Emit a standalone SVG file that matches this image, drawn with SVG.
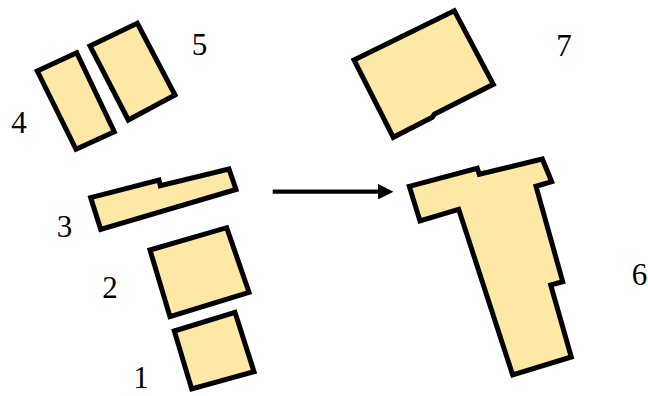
<svg xmlns="http://www.w3.org/2000/svg" width="648" height="396" viewBox="0 0 648 396">
  <style>
    .bld { fill: #FDE8A5; stroke: #000; stroke-width: 5; stroke-linejoin: miter; }
    .lbl { font-family: "Liberation Serif", "Times New Roman", serif; font-size: 31px; fill: #000; text-anchor: middle; }
  </style>
  <defs>
    <marker id="head" viewBox="0 0 10 10" refX="0" refY="5" markerWidth="3.6" markerHeight="3.6" markerUnits="strokeWidth" orient="auto">
      <path d="M0,0 L10,5 L0,10 Z" fill="#000"/>
    </marker>
  </defs>
  <rect width="648" height="396" fill="#fff"/>

  <g id="b4">
    <polygon class="bld" points="37.3,71 76.7,52.7 114.3,131.7 76,149.3"/>
    <text class="lbl" x="19" y="132.5">4</text>
  </g>
  <g id="b5">
    <polygon class="bld" points="90,46 137.3,23.3 175,95 128.3,120"/>
    <text class="lbl" x="199.5" y="55">5</text>
  </g>
  <g id="b3">
    <polygon class="bld" points="90.7,197.7 159,180 160.3,185.7 229,169 236,189.5 100.7,229.3"/>
    <text class="lbl" x="64.5" y="236.5">3</text>
  </g>
  <g id="b2">
    <polygon class="bld" points="150,250 226.7,227.7 249,292.3 170,316.7"/>
    <text class="lbl" x="110" y="298">2</text>
  </g>
  <g id="b1">
    <polygon class="bld" points="174.3,331 235,312.3 254,371.7 191.7,389"/>
    <text class="lbl" x="141" y="388">1</text>
  </g>
  <g id="b7">
    <polygon class="bld" points="354,60 454.3,10.7 493.3,84.3 434.3,114.3 432.3,117.3 393.3,137.3"/>
    <text class="lbl" x="564" y="56">7</text>
  </g>
  <g id="b6">
    <polygon class="bld" points="409.3,186.3 477.3,168.3 479.3,174.3 542.3,159 551.7,181.7 536,186.3 562.7,281.7 550.7,285 571.3,357 512.7,375 458.7,209.3 420,221"/>
    <text class="lbl" x="639.5" y="285">6</text>
  </g>

  <g id="connectors">
    <line x1="272.7" y1="191.7" x2="378" y2="191.7" stroke="#000" stroke-width="4.3" marker-end="url(#head)"/>
  </g>
</svg>
